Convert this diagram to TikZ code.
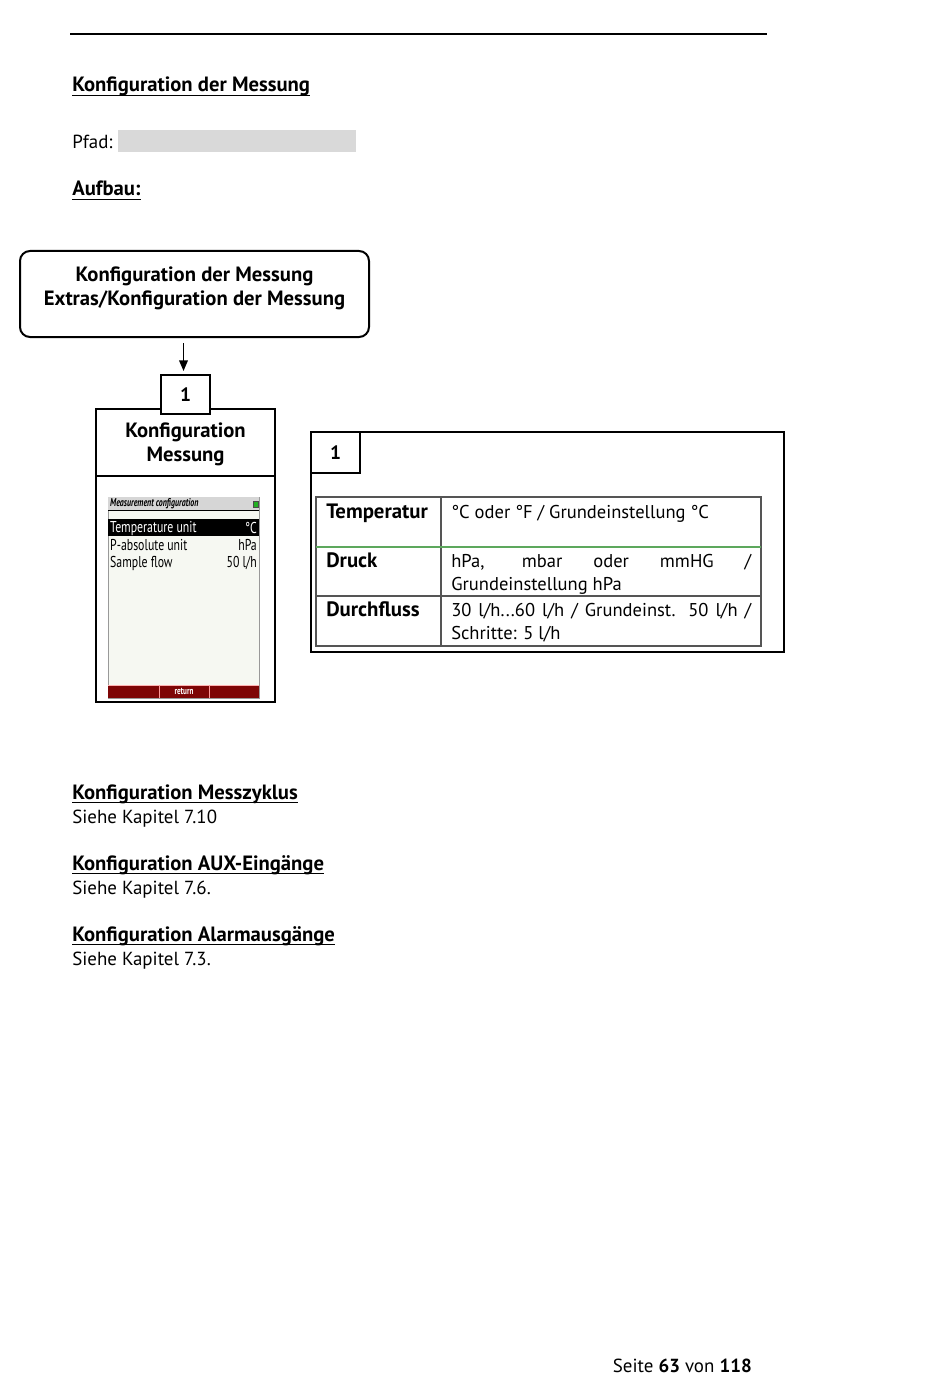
\documentclass[tikz,border=0pt]{standalone}
\usepackage{fontspec}
\setmainfont{PT Sans}
\usepackage{tikz}
\usetikzlibrary{arrows.meta,calc}
\definecolor{tabgreen}{HTML}{5DA85D}
\definecolor{pathgray}{HTML}{D9D9D9}
\definecolor{tabline}{HTML}{555555}
\definecolor{scrbar}{HTML}{D6D6D6}
\definecolor{scrbg}{HTML}{F6F8F2}
\definecolor{scrred}{HTML}{7E0606}
\definecolor{scrled}{HTML}{22B022}
\newcommand{\ulhead}[1]{{\setbox0=\hbox{#1}\rlap{\vrule height -2.2pt depth 3.2pt width \wd0}\box0}}

\begin{document}
\begin{tikzpicture}[x=0.75pt,y=-0.75pt,
  body/.style={anchor=base west,inner sep=0pt,font=\fontsize{14.2}{17}\selectfont},
  heading/.style={body,font=\fontsize{15.5}{17}\selectfont\bfseries},
  frame/.style={draw,line width=1.5pt},
  numbox/.style={frame,fill=white,minimum width=36.75pt,inner sep=0pt,font=\fontsize{14.5}{17}\selectfont\bfseries},
  boxtext/.style={align=center,inner sep=0pt,font=\fontsize{15.5}{18}\selectfont\bfseries},
  cell/.style={body,font=\fontsize{13.9}{17}\selectfont},
  celllab/.style={body,font=\fontsize{15.6}{17}\selectfont\bfseries},
  scrtext/.style={inner sep=0pt,font=\fontsize{11.8}{12}\selectfont,xscale=0.75},
  arr/.style={-{Triangle[length=8pt,width=6.5pt]},line width=1.1pt}]
  \useasboundingbox (0,0) rectangle (950,1387);
  % page head
  \draw[line width=0.8pt] (70,34) -- (767,34);
  \node[heading] (h1) at (72,92) {\ulhead{Konfiguration der Messung}};
  \node[body] (pfad) at (72,149) {Pfad:};
  \fill[pathgray] (118,130) rectangle (356,152);
  \node[heading] (aufbau) at (72,196) {\ulhead{Aufbau:}};
  % menu path
  \node[frame,rounded corners=7.5pt,minimum width=261.75pt,minimum height=64.5pt] (cfg) at (194.5,294) {};
  \node[boxtext] (cfgtxt) at ([yshift=4pt]cfg.center) {Konfiguration der Messung\\Extras/Konfiguration der Messung};
  \node[frame,minimum width=134.25pt,minimum height=219.75pt] (menu) at (185.5,555.5) {};
  \node[numbox,minimum height=29.25pt] (one) at (185.5,394.5) {1};
  \draw[arr,shorten <=3.75pt,shorten >=2.25pt] ([xshift=-1.5pt]cfg.south -| one.north) -- ([xshift=-1.5pt]one.north);
  \draw[line width=1.5pt] (menu.west |- 0,476) -- (menu.east |- 0,476);
  \node[boxtext] (menutxt) at (185.5,444) {Konfiguration\\Messung};
  % screen
  \node[draw=gray!80,fill=scrbg,minimum width=113.25pt,minimum height=150.75pt,inner sep=0pt] (scr) at (183.5,597.5) {};
  \fill[scrbar] (108,497) rectangle (259,510);
  \draw[line width=0.5pt] (108,510) -- (259,510);
  \node[scrtext,anchor=west,font=\fontsize{8.5}{9}\selectfont\bfseries\itshape,xscale=0.93] (scrtitle) at (110,504) {Measurement configuration};
  \filldraw[fill=scrled,draw=black!70,line width=0.3pt] (253,501) rectangle (258,507);
  \fill[black] (108,519) rectangle (259,536);
  \node[scrtext,anchor=west,text=white] (r1) at (110,528) {Temperature unit};
  \node[scrtext,anchor=east,text=white] (v1) at (257,528) {°C};
  \node[scrtext,anchor=west] (r2) at (110,545) {P-absolute unit};
  \node[scrtext,anchor=east] (v2) at (257,545) {hPa};
  \node[scrtext,anchor=west] (r3) at (110,563) {Sample flow};
  \node[scrtext,anchor=east] (v3) at (257,563) {50 l/h};
  \fill[scrred] (108,685) rectangle (259,698);
  \draw[red!30,line width=0.4pt] (108,685) -- (259,685);
  \foreach \x in {159,209}
    \draw[red!40,line width=0.5pt] (\x,685) -- (\x,698);
  \node[scrtext,text=white,font=\fontsize{7.5}{8}\selectfont\bfseries,xscale=0.95] (ret) at (184,691.5) {return};
  % detail panel
  \node[frame,minimum width=354.75pt,minimum height=165pt] (panel) at (547.5,542) {};
  \node[numbox,minimum height=30.75pt] (pone) at (335.5,452.5) {1};
  \draw[tabline,line width=0.8pt] (316,497) rectangle (761,646);
  \draw[tabline,line width=0.8pt] (441,497) -- (441,646);
  \draw[tabline,line width=0.8pt] (316,596) -- (761,596);
  \draw[tabgreen,line width=1.3pt] (316,547) -- (761,547);
  \foreach \lab/\y in {Temperatur/518,Druck/567,Durchfluss/616}
    \node[celllab] (l\y) at (326,\y) {\lab};
  \node[cell] (c1) at (451,518) {°C oder °F / Grundeinstellung °C};
  \node[cell] (c2) at (451,567) {\makebox[225pt][s]{hPa, mbar oder mmHG /}};
  \node[cell] (c2b) at (451,590) {Grundeinstellung hPa};
  \node[cell] (c3) at (451,616) {\makebox[225pt][s]{30 l/h...60 l/h / Grundeinst. 50 l/h /}};
  \node[cell] (c3b) at (451,639) {Schritte: 5 l/h};
  % further sections
  \foreach \t/\k/\y in {Messzyklus/7.10/799,AUX-Eingänge/7.6./870,Alarmausgänge/7.3./941}{
    \node[heading] (s\y) at (72,\y) {\ulhead{Konfiguration \t}};
    \node[body] (k\y) at (72,{\y+24}) {Siehe Kapitel \k};
  }
  \node[body,anchor=base east] (foot) at (752,1372) {Seite \textbf{63} von \textbf{118}};
\end{tikzpicture}
\end{document}
